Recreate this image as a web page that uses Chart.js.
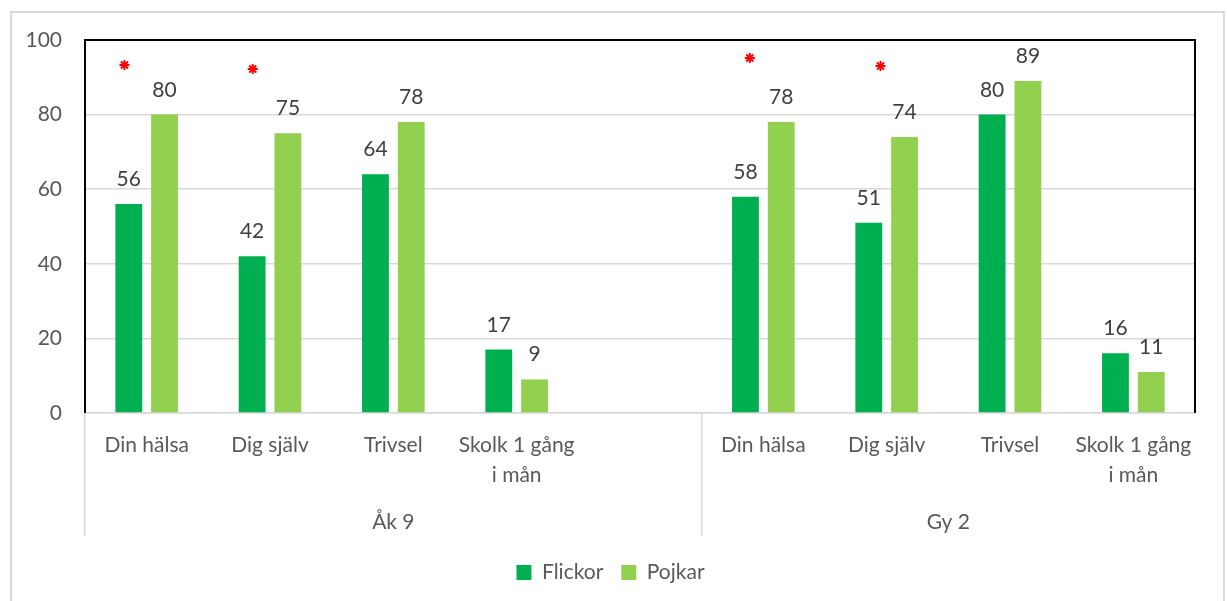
<!DOCTYPE html>
<html>
<head>
<meta charset="utf-8">
<script src="https://cdn.jsdelivr.net/npm/chart.js@4/dist/chart.umd.min.js"></script>
<style>
  html, body { margin: 0; padding: 0; background: #fff; overflow: hidden; }
  #frame { position: absolute; left: 10px; top: 11px; width: 1211px; height: 600px;
           border: 2px solid #d9d9d9; border-bottom: none; pointer-events: none; }
  canvas { position: absolute; left: 0; top: 0; }
</style>
</head>
<body>
<div id="frame"></div>
<canvas id="chart" width="1227" height="601"></canvas>
<script>
// DATA
const categories = ['Din hälsa', 'Dig själv', 'Trivsel', ['Skolk 1 gång', 'i mån'], '',
                    'Din hälsa', 'Dig själv', 'Trivsel', ['Skolk 1 gång', 'i mån']];
const flickor = [56, 42, 64, 17, null, 58, 51, 80, 16];
const pojkar = [80, 75, 78, 9, null, 78, 74, 89, 11];
const groupNames = ['Åk 9', 'Gy 2'];
const groupCenters = [2, 6.5];
const groupBounds = [0, 5, 9];
// significance markers (*)
const starX = [-0.18, 0.86, 4.89, 5.95];
const starY = [93.3, 92.2, 95.2, 93.0];
const yTicks = [0, 20, 40, 60, 80, 100];

const FONT = 'Lato';
const TEXT = '#595959';
const GRID = '#d9d9d9';
Chart.defaults.font.family = FONT;
Chart.defaults.font.size = 21;
Chart.defaults.color = TEXT;

// value labels above the bars + black frame round the plot
const barLabels = {
  id: 'barLabels',
  afterDatasetsDraw(chart) {
    const ctx = chart.ctx;
    ctx.save();
    ctx.font = '21px ' + FONT;
    ctx.fillStyle = '#404040';
    ctx.textAlign = 'center';
    ctx.textBaseline = 'alphabetic';
    [0, 1].forEach(di => {
      const meta = chart.getDatasetMeta(di);
      meta.data.forEach((bar, i) => {
        const v = chart.data.datasets[di].data[i];
        if (v == null) return;
        ctx.fillText(v, bar.x, bar.y - 18);
      });
    });
    const a = chart.chartArea;
    ctx.strokeStyle = '#000';
    ctx.lineWidth = 2;
    ctx.beginPath();
    ctx.moveTo(a.left, a.bottom);
    ctx.lineTo(a.left, a.top);
    ctx.lineTo(a.right, a.top);
    ctx.lineTo(a.right, a.bottom);
    ctx.stroke();
    ctx.restore();
  }
};

// chart level indexAxis 'y' only so that the star axis is not counted as a
// second bar axis (chart.js 4.5); every dataset says indexAxis 'x' itself
new Chart(document.getElementById('chart').getContext('2d'), {
  type: 'bar',
  data: {
    labels: categories,
    datasets: [
      { type: 'bar', label: 'Flickor', data: flickor, backgroundColor: '#00b050', indexAxis: 'x',
        categoryPercentage: 0.58, barPercentage: 0.75, xAxisID: 'x', yAxisID: 'y', order: 2 },
      { type: 'bar', label: 'Pojkar', data: pojkar, backgroundColor: '#92d050', indexAxis: 'x',
        categoryPercentage: 0.58, barPercentage: 0.75, xAxisID: 'x', yAxisID: 'y', order: 2 },
      { type: 'scatter', label: 'sig', data: starX.map((x, i) => ({ x: x, y: starY[i] })),
        indexAxis: 'x', xAxisID: 'xg', yAxisID: 'y', pointStyle: 'star', radius: 5,
        borderColor: '#ff0000', backgroundColor: '#ff0000', borderWidth: 2, order: 1 }
    ]
  },
  options: {
    indexAxis: 'y',
    responsive: false,
    animation: false,
    layout: { padding: { left: 26, top: 40, right: 32, bottom: 8 } },
    plugins: {
      legend: {
        position: 'bottom',
        labels: {
          boxWidth: 15, boxHeight: 15, padding: 18, color: TEXT,
          filter: item => item.datasetIndex < 2
        }
      },
      tooltip: { enabled: false }
    },
    scales: {
      y: {
        type: 'linear',
        position: 'left',
        offset: false,
        min: 0, max: 100,
        afterBuildTicks: s => { s.ticks = yTicks.map(v => ({ value: v })); },
        afterFit: s => { s.width = 59; },
        ticks: { padding: 23, color: TEXT },
        grid: { offset: false, color: GRID, lineWidth: 1.5, drawTicks: false },
        border: { display: false }
      },
      x: {
        type: 'category',
        position: 'bottom',
        offset: true,
        afterFit: s => { s.height = 78; },
        ticks: { color: TEXT, padding: -105, maxRotation: 0, autoSkip: false,
                 font: { size: 21, lineHeight: 1.4 } },
        grid: {
          offset: true, drawOnChartArea: false, drawTicks: true, tickLength: 123,
          lineWidth: 1.5,
          color: c => groupBounds.includes(c.index) ? GRID : 'rgba(0,0,0,0)'
        },
        border: { display: true, color: GRID, width: 1.5 }
      },
      xg: {
        type: 'linear',
        position: 'bottom',
        offset: false,
        min: -0.5, max: 8.5,
        afterBuildTicks: s => { s.ticks = groupCenters.map(v => ({ value: v })); },
        afterFit: s => { s.height = 53; },
        ticks: { color: TEXT, padding: 11,
                 callback: v => groupNames[groupCenters.indexOf(v)] },
        grid: { display: false },
        border: { display: false }
      }
    }
  },
  plugins: [barLabels]
});
</script>
</body>
</html>
